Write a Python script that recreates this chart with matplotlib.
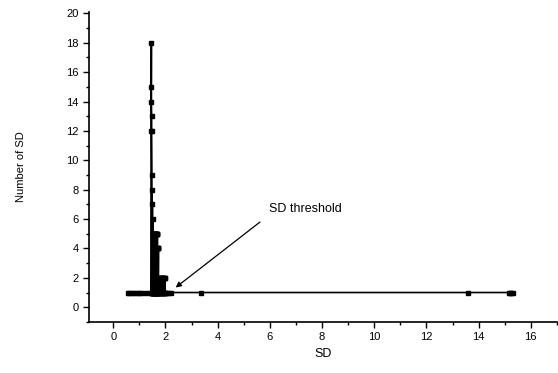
import matplotlib.pyplot as plt
from matplotlib.ticker import MultipleLocator

plt.rcParams['font.family'] = ['Liberation Sans', 'DejaVu Sans']

# SD value and how many times it occurs
sd = [0.55, 0.62, 0.70, 0.80, 0.90, 1.00, 1.08, 1.23, 1.38, 1.44,
      1.45, 1.46, 1.46, 1.46, 1.47, 1.47, 1.48, 1.48, 1.49, 1.49,
      1.50, 1.50, 1.51, 1.51, 1.52, 1.52, 1.53, 1.53, 1.54, 1.54,
      1.55, 1.55, 1.56, 1.56, 1.57, 1.57, 1.58, 1.58, 1.59, 1.59,
      1.60, 1.60, 1.61, 1.61, 1.62, 1.62, 1.63, 1.63, 1.64, 1.64,
      1.65, 1.65, 1.66, 1.66, 1.67, 1.67, 1.68, 1.68, 1.69, 1.69,
      1.70, 1.70, 1.71, 1.71, 1.72, 1.72, 1.73, 1.73, 1.75, 1.75,
      1.77, 1.77, 1.79, 1.79, 1.81, 1.81, 1.83, 1.83, 1.85, 1.85,
      1.87, 1.87, 1.89, 1.89, 1.91, 1.91, 1.93, 1.93, 1.95, 1.95,
      1.97, 1.97, 1.99, 1.99, 2.04, 2.10, 2.20,
      3.37, 13.60, 15.15, 15.20, 15.25, 15.30]
count = [1, 1, 1, 1, 1, 1, 1, 1, 1, 1,
         12, 18, 15, 14, 13, 12, 9, 1, 8, 1,
         7, 1, 6, 1, 5, 1, 5, 1, 5, 1,
         5, 1, 5, 1, 5, 1, 5, 1, 5, 1,
         5, 1, 5, 1, 5, 1, 5, 1, 5, 1,
         5, 1, 5, 1, 5, 1, 5, 1, 5, 1,
         4, 1, 4, 1, 4, 1, 4, 1, 2, 1,
         2, 1, 2, 1, 2, 1, 2, 1, 2, 1,
         2, 1, 2, 1, 2, 1, 2, 1, 2, 1,
         2, 1, 2, 1, 1, 1, 1,
         1, 1, 1, 1, 1, 1]

fig = plt.figure(figsize=(5.58, 3.73), dpi=100)
ax = fig.add_axes([0.1595, 0.137, 0.8385, 0.831])

ax.plot(sd, count, color='black', lw=1.2, marker='s', ms=2.5)

ax.set_xlim(-0.93, 17)
ax.set_ylim(-1, 20.1)
ax.xaxis.set_minor_locator(MultipleLocator(1))
ax.yaxis.set_minor_locator(MultipleLocator(1))
ax.set_xticks(range(0, 17, 2))
ax.set_yticks(range(0, 21, 2))
ax.tick_params(which='major', length=4, width=1, labelsize=8, direction='out')
ax.tick_params(which='minor', length=2.5, width=1, direction='out')
for s in ['top', 'right']:
    ax.spines[s].set_visible(False)
for s in ['left', 'bottom']:
    ax.spines[s].set_linewidth(1.2)

ax.set_xlabel('SD', fontsize=9, labelpad=4)
ax.set_ylabel('Number of SD', fontsize=8, labelpad=29)

ax.annotate('SD threshold', xy=(2.39, 1.34), xytext=(5.98, 6.7),
            fontsize=9, va='center', ha='left',
            arrowprops=dict(arrowstyle='-|>', color='black', lw=0.9,
                            shrinkA=6, shrinkB=0, mutation_scale=8,
                            relpos=(0, 0)))

fig.savefig('out.png', dpi=100)
